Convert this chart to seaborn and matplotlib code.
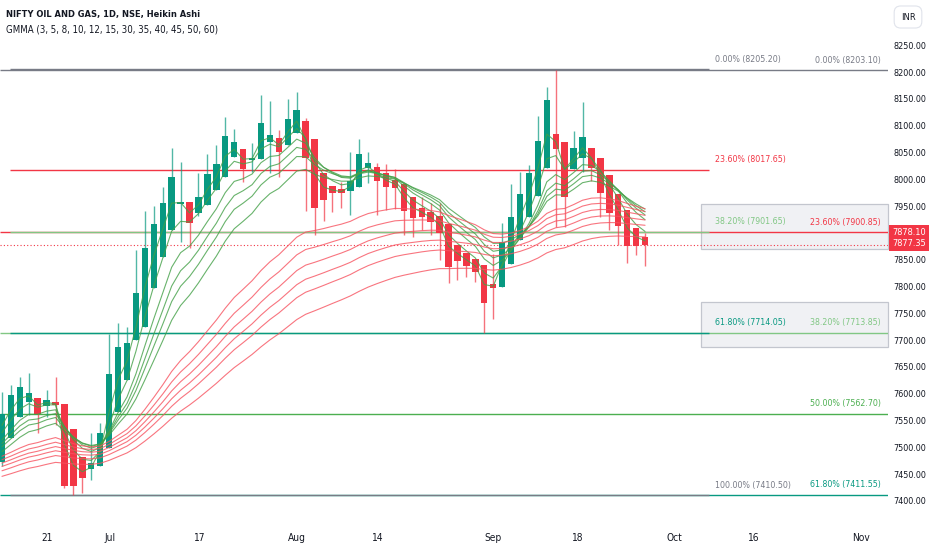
import matplotlib
matplotlib.use("Agg")
import matplotlib.pyplot as plt
from matplotlib import font_manager
from matplotlib.patches import Rectangle
import seaborn as sns
import pandas as pd
import numpy as np

# Heikin Ashi candles, NIFTY OIL AND GAS daily, mid Jun - end Sep 2023
ha_open = [7473, 7517, 7557, 7585, 7592, 7577, 7585, 7581, 7534, 7482,
           7460, 7465, 7499, 7566, 7626, 7700, 7724, 7797, 7855, 7905,
           7954, 7958, 7937, 7952, 7980, 8004, 8041, 8056, 8036, 8038,
           8069, 8077, 8064, 8086, 8109, 8075, 8012, 7987, 7982, 7978,
           7986, 8021, 8023, 8012, 7999, 7991, 7967, 7946, 7939, 7931,
           7917, 7877, 7862, 7851, 7840, 7805, 7799, 7842, 7887, 7930,
           7969, 8021, 8084, 8069, 8019, 8040, 8058, 8040, 8008, 7972,
           7943, 7909, 7892]
ha_close = [7562, 7598, 7613, 7601, 7562, 7588, 7579, 7428, 7428, 7443,
            7471, 7527, 7637, 7687, 7695, 7788, 7872, 7917, 7956, 8004,
            7958, 7918, 7967, 8010, 8028, 8081, 8069, 8019, 8040, 8105,
            8083, 8051, 8112, 8129, 8040, 7946, 7961, 7974, 7974, 7997,
            8047, 8030, 7997, 7986, 7984, 7941, 7928, 7930, 7920, 7900,
            7836, 7848, 7838, 7827, 7769, 7797, 7883, 7930, 7972, 8012,
            8071, 8148, 8056, 7967, 8058, 8079, 8021, 7974, 7937, 7913,
            7876, 7876, 7877.35]
ha_high = [7603, 7616, 7631, 7639, 7592, 7607, 7631, 7581, 7534, 7482,
           7527, 7545, 7711, 7732, 7724, 7868, 7941, 7950, 7986, 8058,
           8032, 7958, 8012, 8047, 8064, 8116, 8094, 8056, 8068, 8157,
           8146, 8092, 8150, 8163, 8114, 8075, 8012, 7987, 7995, 8051,
           8075, 8051, 8030, 8028, 8019, 7991, 7967, 7967, 7956, 7956,
           7917, 7877, 7862, 7851, 7840, 7861, 7918, 7991, 8014, 8027,
           8118, 8172, 8203, 8069, 8090, 8144, 8058, 8040, 8008, 7972,
           7943, 7909, 7900]
ha_low = [7465, 7517, 7557, 7560, 7527, 7557, 7542, 7425, 7410.5, 7415,
          7439, 7465, 7499, 7566, 7626, 7700, 7724, 7797, 7855, 7905,
          7883, 7872, 7931, 7952, 7980, 8004, 8041, 7995, 8014, 8038,
          8012, 8004, 8064, 8086, 7941, 7896, 7922, 7939, 7946, 7933,
          7986, 7993, 7933, 7943, 7945, 7896, 7892, 7905, 7896, 7849,
          7807, 7812, 7818, 7808, 7713, 7739, 7799, 7842, 7887, 7930,
          7969, 8021, 7911, 7911, 8019, 8014, 7997, 7930, 7905, 7877,
          7844, 7859, 7838]
last_price = 7878.10

# GMMA periods and the value each EMA had just before the first visible bar
short_periods = [3, 5, 8, 10, 12, 15]
long_periods = [30, 35, 40, 45, 50, 60]
ema_seed = {3: 7520, 5: 7510, 8: 7500, 10: 7495, 12: 7490, 15: 7482,
            30: 7478, 35: 7472, 40: 7466, 45: 7460, 50: 7452, 60: 7442}

# x axis labels (bar positions where TradingView put them)
tick_labels = ["21", "Jul", "17", "Aug", "14", "Sep", "18", "Oct", "16", "Nov"]
tick_pos = [5.0, 12.1, 22.1, 33.0, 42.1, 55.0, 64.5, 75.3, 84.2, 96.2]
# price axis labels (7900 hidden behind the last price tag)
price_ticks = [7400, 7450, 7500, 7550, 7600, 7650, 7700, 7750, 7800, 7850,
               7950, 8000, 8050, 8100, 8150, 8200, 8250]

# fib retracement 1 (short, labels left) and 2 (extended, labels right)
fib1_levels = [8205.20, 8017.65, 7901.65, 7714.05, 7410.50]
fib1_pct = ["0.00%", "23.60%", "38.20%", "61.80%", "100.00%"]
fib1_colors = ["#787b86", "#f23645", "#81c784", "#089981", "#787b86"]
fib2_levels = [8203.10, 7900.85, 7713.85, 7562.70, 7411.55]
fib2_pct = ["0.00%", "23.60%", "38.20%", "50.00%", "61.80%"]
fib2_colors = ["#787b86", "#f23645", "#81c784", "#4caf50", "#089981"]

# grey zone rectangles (low, high)
zones = [(7870, 7954), (7687, 7771)]

# a narrow face if there is one (TradingView text is quite condensed)
fonts = font_manager.fontManager.ttflist
narrow = [f for f in fonts if "Narrow" in f.name or "Condensed" in f.name
          or f.stretch in ("condensed", "semi-condensed")]
if narrow:
    font = narrow[0].name
    stretch = narrow[0].stretch
else:
    font = "Liberation Sans"
    stretch = "normal"

sns.set_style("white")
plt.rcParams["font.family"] = [font, "DejaVu Sans"]
plt.rcParams["font.stretch"] = stretch

up_col = "#089981"
dn_col = "#f23645"
text_col = "#131722"

n = len(ha_close)
bars = np.arange(n)
x_left, x_right = -0.22, 99.2

fig = plt.figure(figsize=(9.32, 5.5), dpi=100)
ax = fig.add_axes([0, 28 / 550, 888 / 932, 522 / 550])
ax.set_xlim(x_left, x_right)
ax.set_ylim(7360.8, 8334.3)

# zones
for lo, hi in zones:
    ax.add_patch(Rectangle((78.3, lo), x_right - 78.3, hi - lo, facecolor="#f0f1f4",
                           edgecolor="#c3c6ce", lw=0.9, zorder=0.5, clip_on=False))

# fib 2 lines (full width)
for lvl, col in zip(fib2_levels, fib2_colors):
    ax.hlines(lvl, x_left, x_right, color=col, lw=1.0, zorder=1)
# fib 1 lines
for lvl, col in zip(fib1_levels, fib1_colors):
    ax.hlines(lvl, 0.9, 79.2, color=col, lw=1.0, zorder=1.1)

# candles
colors = [up_col if c >= o else dn_col for o, c in zip(ha_open, ha_close)]
ax.vlines(bars, ha_low, ha_high, colors=colors, lw=1.0, alpha=0.7, zorder=2)
body_lo = np.minimum(ha_open, ha_close)
body_h = np.maximum(np.abs(np.array(ha_close) - np.array(ha_open)), 1.5)
ax.bar(bars, body_h, bottom=body_lo, width=0.72, color=colors, lw=0, zorder=2.1)

# GMMA
rows = []
for p in short_periods + long_periods:
    ema = pd.Series([ema_seed[p]] + ha_close).ewm(span=p, adjust=False).mean().iloc[1:]
    rows.append(pd.DataFrame({"bar": bars, "value": ema.values, "period": str(p)}))
df = pd.concat(rows)
palette = {str(p): "#43a047" for p in short_periods}
palette.update({str(p): "#f7525f" for p in long_periods})
sns.lineplot(data=df, x="bar", y="value", hue="period", palette=palette,
             legend=False, lw=0.8, alpha=0.8, ax=ax, zorder=3)

# last price dotted line
ax.axhline(ha_close[-1], color=dn_col, lw=0.8, ls=(0, (1, 2)), zorder=1.2)

# fib labels
fs_fib = 6.3
for lvl, pct, col in zip(fib1_levels, fib1_pct, fib1_colors):
    ax.annotate(f"{pct} ({lvl:.2f})", (79.8, lvl), xytext=(0, 4), textcoords="offset points",
                ha="left", va="bottom", color=col, fontsize=fs_fib, zorder=4)
for lvl, pct, col in zip(fib2_levels, fib2_pct, fib2_colors):
    ax.annotate(f"{pct} ({lvl:.2f})", (98.4, lvl), xytext=(0, 4), textcoords="offset points",
                ha="right", va="bottom", color=col, fontsize=fs_fib, zorder=4)

# axes
for s in ax.spines.values():
    s.set_visible(False)
ax.set_xlabel("")
ax.set_ylabel("")
ax.set_xticks(tick_pos, tick_labels)
ax.yaxis.tick_right()
ax.set_yticks(price_ticks, [f"{v:.2f}" for v in price_ticks])
ax.tick_params(axis="x", length=0, pad=8, labelsize=7.3, labelcolor=text_col)
ax.tick_params(axis="y", length=0, pad=4, labelsize=6.5, labelcolor=text_col)
ax.grid(False)

# price labels on axis
ax.annotate(f"{last_price:.2f}\n{ha_close[-1]:.2f}", (1.0, ha_close[-1]),
            xycoords=("axes fraction", "data"), xytext=(3, 5), textcoords="offset points",
            ha="left", va="center", color="white", fontsize=6.6, linespacing=1.3,
            bbox=dict(boxstyle="square,pad=0.3", fc=dn_col, ec="none"), annotation_clip=False)

# header texts
fig.text(6 / 932, 1 - 14 / 550, "NIFTY OIL AND GAS, 1D, NSE, Heikin Ashi", fontsize=6.7,
         fontweight="bold", color=text_col, ha="left", va="center")
fig.text(6 / 932, 1 - 29 / 550, "GMMA (3, 5, 8, 10, 12, 15, 30, 35, 40, 45, 50, 60)",
         fontsize=6.9, color=text_col, ha="left", va="center")
fig.text(908 / 932, 1 - 17 / 550, "INR", fontsize=6.7, color=text_col, ha="center",
         va="center", bbox=dict(boxstyle="round,pad=0.7", fc="white", ec="#e0e3eb", lw=0.8))

fig.savefig("out.png", dpi=100)
